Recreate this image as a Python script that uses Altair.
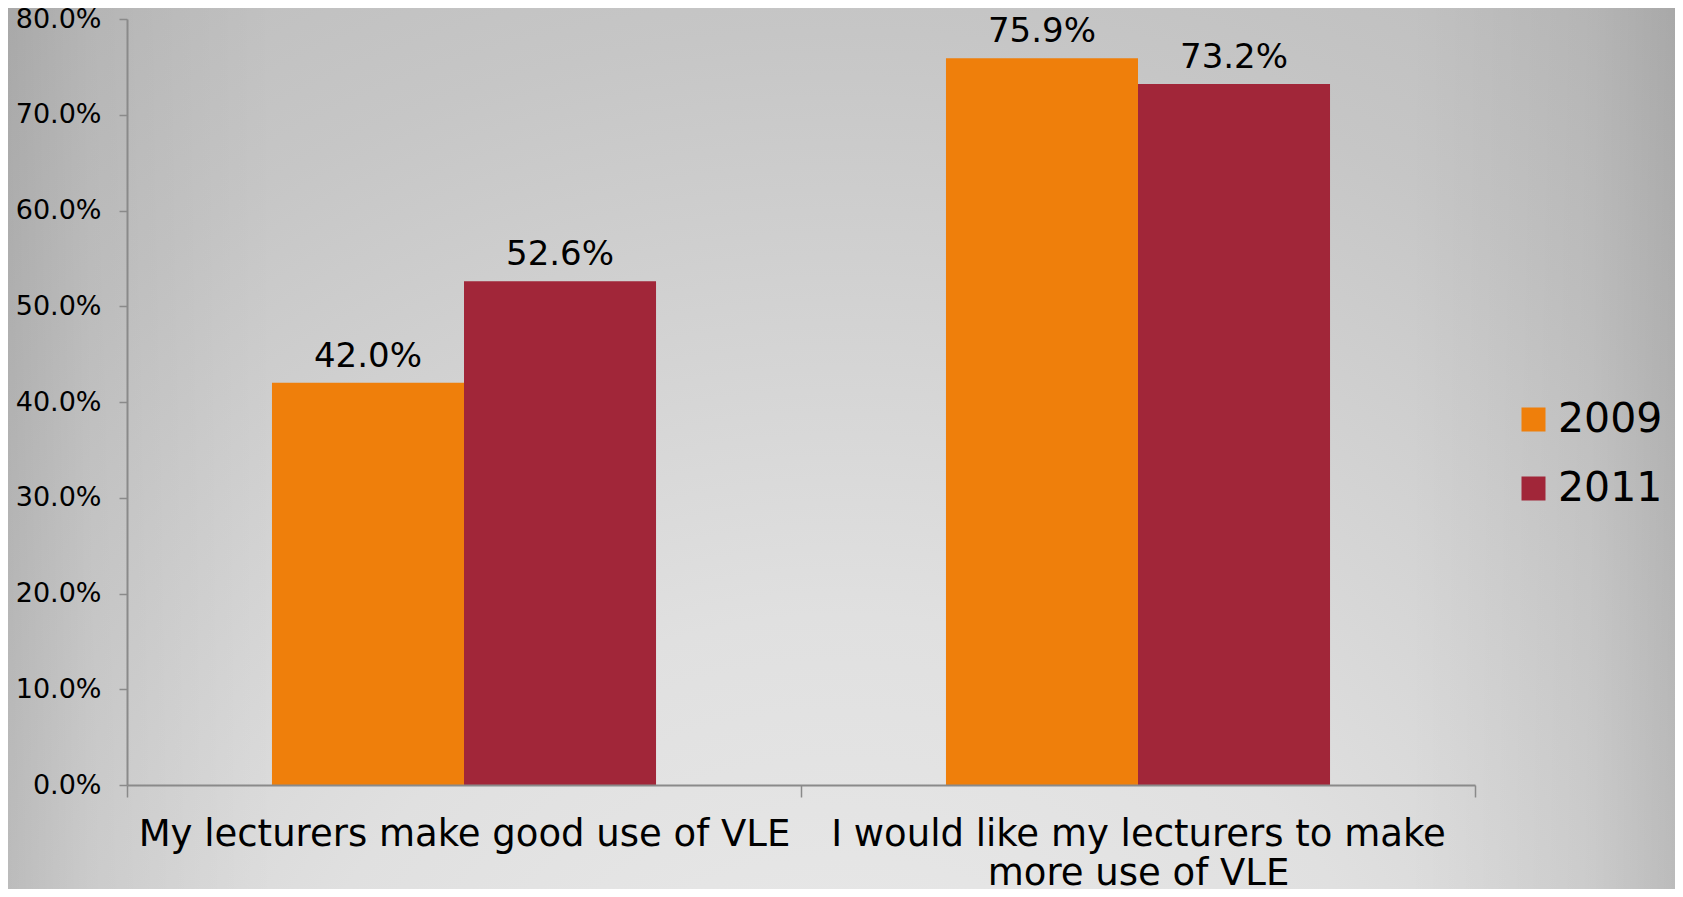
import altair as alt
import pandas as pd

categories = ["My lecturers make good use of VLE",
              "I would like my lecturers to make more use of VLE"]
label_lines = [["My lecturers make good use of VLE"],
               ["I would like my lecturers to make", "more use of VLE"]]
years = ["2009", "2011"]
values_2009 = [0.420, 0.759]
values_2011 = [0.526, 0.732]
colors = ["#EF7F0B", "#A12639"]
y_ticks = [0.0, 0.1, 0.2, 0.3, 0.4, 0.5, 0.6, 0.7, 0.8]

rows = []
for i, c in enumerate(categories):
    rows.append({"cat": c, "year": "2009", "value": values_2009[i]})
    rows.append({"cat": c, "year": "2011", "value": values_2011[i]})
df = pd.DataFrame(rows)

W, H = 1348, 766
PL, PT, PR, PB = 119, 11, 200, 104
FONT = "DejaVu Sans"

# label expression for multi-line category labels
parts = []
for c, lines in zip(categories, label_lines):
    arr = "[" + ",".join("'" + l + "'" for l in lines) + "]"
    parts.append(f"datum.label == '{c}' ? {arr} : ")
label_expr = "".join(parts) + "datum.label"

bg_df = pd.DataFrame({"a": [0]})
bg_radial = alt.Chart(bg_df).mark_rect(
    fill={
        "gradient": "radial",
        "x1": 0.5, "y1": 0.95, "r1": 0.0,
        "x2": 0.5, "y2": 0.95, "r2": 1.0,
        "stops": [
            {"offset": 0.0, "color": "#ececec"},
            {"offset": 0.35, "color": "#e0e0e0"},
            {"offset": 0.7, "color": "#c6c6c6"},
            {"offset": 1.0, "color": "#b6b6b6"},
        ],
    }
).encode(
    x=alt.value(-PL), x2=alt.value(W + PR),
    y=alt.value(-PT), y2=alt.value(H + PB),
)
bg_side = alt.Chart(bg_df).mark_rect(
    fill={
        "gradient": "linear",
        "x1": 0, "y1": 0, "x2": 1, "y2": 0,
        "stops": [
            {"offset": 0.0, "color": "rgba(0,0,0,0.11)"},
            {"offset": 0.05, "color": "rgba(0,0,0,0.05)"},
            {"offset": 0.16, "color": "rgba(0,0,0,0)"},
            {"offset": 0.84, "color": "rgba(0,0,0,0)"},
            {"offset": 0.95, "color": "rgba(0,0,0,0.05)"},
            {"offset": 1.0, "color": "rgba(0,0,0,0.11)"},
        ],
    }
).encode(
    x=alt.value(-PL), x2=alt.value(W + PR),
    y=alt.value(-PT), y2=alt.value(H + PB),
)

x_enc = alt.X(
    "cat:N", sort=categories,
    scale=alt.Scale(paddingInner=0, paddingOuter=0),
    axis=alt.Axis(
        title=None, labelAngle=0, labelLimit=0, labelFont=FONT,
        labelFontSize=37, labelColor="#000000", labelPadding=19,
        labelLineHeight=39, labelExpr=label_expr,
        domainColor="#8a8a8a", domainWidth=2, tickColor="#8a8a8a",
        tickWidth=1.5, tickSize=12, tickBand="extent", zindex=2,
    ),
)
xo_enc = alt.XOffset(
    "year:N", sort=years,
    scale=alt.Scale(paddingInner=0, paddingOuter=0.755),
)
y_enc = alt.Y(
    "value:Q",
    scale=alt.Scale(domain=[0, 0.8], nice=False),
    axis=alt.Axis(
        title=None, values=y_ticks, format=".1%", grid=False,
        labelFont=FONT, labelFontSize=27, labelColor="#000000",
        labelPadding=18, domainColor="#8a8a8a", domainWidth=2,
        tickColor="#8a8a8a", tickWidth=1.5, tickSize=8, zindex=2,
    ),
)

bars = alt.Chart(df).mark_bar().encode(
    x=x_enc, xOffset=xo_enc, y=y_enc,
    color=alt.Color(
        "year:N", sort=years,
        scale=alt.Scale(domain=years, range=colors),
        legend=alt.Legend(
            title=None, orient="none", legendX=1386, legendY=380,
            symbolType="square", symbolSize=576, symbolStrokeWidth=0,
            labelFont=FONT, labelFontSize=41, labelColor="#000000",
            labelOffset=4, rowPadding=27, padding=0, zindex=2,
        ),
    ),
)

labels = alt.Chart(df).mark_text(
    font=FONT, fontSize=34, color="#000000", baseline="alphabetic",
    align="center", dy=-16,
).encode(
    x=alt.X("cat:N", sort=categories), xOffset=alt.XOffset("year:N", sort=years),
    y=alt.Y("value:Q"),
    text=alt.Text("value:Q", format=".1%"),
)

chart = alt.layer(bg_radial, bg_side, bars, labels).properties(
    width=W, height=H,
    autosize=alt.AutoSizeParams(type="none"),
    padding={"left": PL, "top": PT, "right": PR, "bottom": PB},
    background="#b5b5b5",
).configure_view(strokeWidth=0)

chart.save("out.html", embed_options={"renderer": "svg", "actions": False})
